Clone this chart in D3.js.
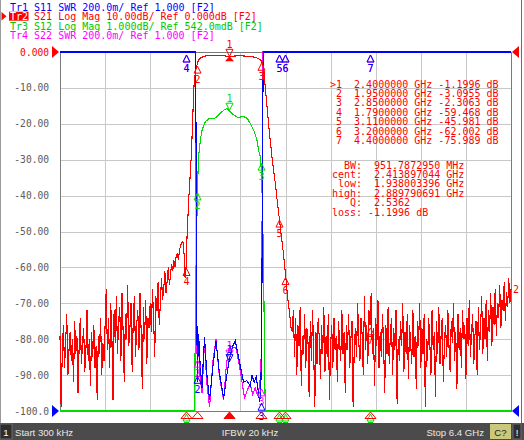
<!DOCTYPE html>
<html><head><meta charset="utf-8">
<script src="https://cdn.jsdelivr.net/npm/d3@7/dist/d3.min.js"></script>
<style>
html,body{margin:0;padding:0;background:#fff;overflow:hidden;}
svg{display:block;}
text{white-space:pre;}
</style></head><body>
<svg id="c" width="524" height="440"></svg>
<script>
// ---------------- DATA ----------------
const freqStart = 0.0003, freqStop = 6.4;           // GHz
const s21Ref = 0, s21PerDiv = 10;                     // dB
const s12Ref = 0.542, s12PerDiv = 1;                  // dB
const swrRef = 1, swrPerDiv = 0.2;
const yTickValues = [0,-10,-20,-30,-40,-50,-60,-70,-80,-90,-100];
const yTickLabels = ["0.000","-10.00","-20.00","-30.00","-40.00","-50.00","-60.00","-70.00","-80.00","-90.00","-100.0"];

const headerLines = [
  {tr:"Tr1", rest:" S11 SWR 200.0m/ Ref 1.000 [F2]", color:"#0000ff", active:false},
  {tr:"Tr2", rest:" S21 Log Mag 10.00dB/ Ref 0.000dB [F2]", color:"#ff0000", active:true},
  {tr:"Tr3", rest:" S12 Log Mag 1.000dB/ Ref 542.0mdB [F2]", color:"#00c800", active:false},
  {tr:"Tr4", rest:" S22 SWR 200.0m/ Ref 1.000 [F2]", color:"#ff00ff", active:false}
];

// S21 sweep: noise segments on a fixed stimulus step, skirts/passband listed point by point
const noiseStep = 0.016;
const s21LeftStart = 0.0003;
const s21LeftNoise = [
 -79,-99,-84,-76,-88,-81,-73,-90,-83,-78,
 -86,-80,-92,-75,-84,-79,-95,-82,-74,-87,
 -81,-77,-89,-83,-72,-86,-80,-93,-78,-85,
 -76,-88,-82,-97,-79,-84,-74,-90,-81,-86,
 -76,-66,-83,-74,-88,-70,-79,-97,-72,-81,
 -68,-84,-75,-71,-86,-67,-78,-92,-73,-80,
 -65,-82,-77,-70,-89,-74,-68,-85,-76,-72,
 -83,-67,-78,-94,-71,-80,-69,-87,-74,-77,
 -70,-78,-66,-74,-85,-68,-72,-64,-76,-70,
 -63,-69,-66,-61,-67,-64,-60,-65,-62,-59,
 -61,-58,-60,-57,-56,-58,-55,-54,-53];
const s21BandFreq = [1.744,1.752,1.760,1.768,1.776,1.784,1.790,1.800,1.810,1.820,1.830,1.840,1.850,1.860,1.870,1.880,1.890,1.900,1.910,1.920,1.930,1.938,1.950,1.970,2.000,2.030,2.070,2.150,2.300,2.400,2.500,2.600,2.700,2.750,2.800,2.830,2.850,2.870,2.890,2.900,2.913,2.937,2.960,2.985,3.013,3.055,3.080,3.110,3.140,3.170,3.200,3.220,3.240,3.260,3.280];
const s21BandDb   = [-52.8,-54,-56,-60,-63,-62,-59.468,-53,-48,-44,-40,-37,-33.5,-30,-25.5,-21,-15,-10,-7.5,-5.8,-4.8,-4.2,-3.0955,-2.2,-1.6,-1.3,-1.1,-1.0,-1.05,-1.1996,-1.1,-1.1,-1.2,-1.4,-1.7,-2.0,-2.3063,-3.0,-4.2,-6.5,-10,-15,-20,-25,-30,-36.5,-41,-45.981,-51,-56,-62.002,-66,-70,-73,-77];
const s21RightStart = 3.296;
const s21RightNoise = [
 -78,-72,-85,-74,-90,-76,-82,-71,-93,-79,
 -84,-73,-88,-77,-81,-96,-75,-86,-72,-83,
 -99,-78,-87,-74,-80,-91,-76,-84,-71,-89,
 -79,-85,-73,-97,-82,-76,-88,-74,-83,-79,
 -92,-75,-81,-86,-72,-84,-78,-95,-76,-83,
 -73,-88,-80,-75,-99,-82,-77,-85,-70,-81,
 -86,-74,-79,-90,-68,-83,-76,-87,-72,-76,
 -67,-84,-77,-93,-74,-82,-69,-88,-78,-85,
 -73,-81,-95,-76,-84,-71,-87,-79,-74,-90,
 -77,-83,-72,-98,-80,-86,-75,-82,-70,-89,
 -78,-84,-73,-91,-76,-81,-87,-72,-85,-79,
 -94,-75,-82,-70,-88,-77,-84,-73,-99,-80,
 -86,-74,-81,-90,-72,-83,-78,-96,-75,-84,
 -71,-87,-79,-74,-92,-80,-76,-85,-72,-82,
 -89,-75,-81,-70,-86,-78,-94,-73,-83,-77,
 -88,-72,-80,-76,-91,-74,-82,-69,-85,-78,
 -73,-87,-79,-75,-90,-71,-83,-77,-68,-84,
 -74,-80,-69,-86,-72,-78,-67,-82,-71,-76,
 -66,-79,-70,-74,-65,-77,-69,-72,-64,-75,
 -67,-71,-63,-70,-66];

// S11 (SWR)
const s11Freq = [0.0003,1.900,1.925,1.938,1.948,1.967,1.990,2.016,2.035,2.052,2.085,2.123,2.170,2.214,2.260,2.322,2.360,2.400,2.450,2.488,2.550,2.605,2.650,2.700,2.724,2.755,2.785,2.810,2.832,2.850,2.865,2.875,2.885,6.4];
const s11Swr  = [6.0,3.6,3.2,1.9,1.16,1.43,1.25,1.13,1.30,1.41,1.20,1.06,1.25,1.39,1.22,1.07,1.18,1.28,1.36,1.39,1.27,1.16,1.17,1.14,1.20,1.16,1.19,1.12,1.05,1.10,1.6,2.5,3.5,6.0];
// S22 (SWR)
const s22Freq = [0.0003,1.900,1.925,1.935,1.945,1.960,1.985,2.016,2.050,2.085,2.123,2.170,2.214,2.260,2.322,2.360,2.390,2.430,2.500,2.560,2.620,2.660,2.700,2.735,2.770,2.800,2.835,2.855,2.870,2.880,6.4];
const s22Swr  = [6.0,3.5,3.0,1.6,1.32,1.42,1.20,1.10,1.38,1.15,1.02,1.28,1.40,1.20,1.06,1.25,1.34,1.36,1.35,1.22,1.07,1.12,1.15,1.09,1.13,1.09,1.14,1.3,2.2,3.5,6.0];
// S12 (dB)
const s12Freq = [0.0003,1.910,1.925,1.940,1.950,1.967,1.992,2.016,2.062,2.123,2.180,2.228,2.299,2.332,2.370,2.417,2.464,2.520,2.605,2.653,2.700,2.757,2.795,2.818,2.842,2.850,2.870,2.890,2.905,2.915,6.4];
const s12Db   = [-60,-10.5,-6,-4.5,-3.3,-2.37,-1.91,-1.63,-1.40,-1.30,-1.32,-1.26,-1.12,-1.07,-1.03,-1.12,-1.21,-1.28,-1.26,-1.30,-1.44,-1.68,-1.91,-2.19,-2.37,-2.47,-3.5,-5.5,-8.5,-10.5,-60];

// Markers
const markerNames = ["1","2","3","4","5","6","7"];
const markerFreqs = [2.4,1.95,2.85,1.79,3.11,3.2,4.4];
const s21MarkerDb = [-1.1996,-3.0955,-2.3063,-59.468,-45.981,-62.002,-75.989];
const s12MarkerDb = [-1.08,-3.3,-2.47,-45,-38,-47,-60];
const s11MarkerSwr = [1.275,1.21,1.06,9.5,6.2,8.7,12.0];
const s22MarkerSwr = [1.30,1.30,1.14,9.0,7.0,8.0,11.0];

const bwLabels = ["BW:","cent:","low:","high:","Q:","loss:"];
const bwValues = [" 951.7872950 MHz"," 2.413897044 GHz"," 1.938003396 GHz"," 2.889790691 GHz"," 2.5362","-1.1996 dB"];

const statusStart = "Start 300 kHz", statusIfbw = "IFBW 20 kHz", statusStop = "Stop 6.4 GHz";

// ---------------- DRAW ----------------
const L = 60, R = 511, T = 52, B = 411;
const svg = d3.select("#c");
const mono = "'DejaVu Sans Mono', monospace";
const RED="#ff0000", BLUE="#0000ff", GREEN="#00dc00", MAG="#ff00ff";

const x = d3.scaleLinear().domain([freqStart, freqStop]).range([L, R]);
const yS21 = d3.scaleLinear().domain([s21Ref - 10*s21PerDiv, s21Ref]).range([B, T]).clamp(true);
const yS12 = d3.scaleLinear().domain([s12Ref - 10*s12PerDiv, s12Ref]).range([B, T]).clamp(true);
const ySwr = d3.scaleLinear().domain([swrRef, swrRef + 10*swrPerDiv]).range([B, T]).clamp(true);

// vertical grid
const xGrid = d3.range(11).map(i => freqStart + i*(freqStop-freqStart)/10);
const gx = svg.append("g").attr("transform", `translate(0,${B})`)
  .call(d3.axisBottom(x).tickValues(xGrid).tickSize(-(B-T)).tickFormat(""));
gx.select(".domain").remove();
gx.selectAll("line").attr("stroke", "#c8c8c8").attr("shape-rendering","crispEdges");

// horizontal grid + labels
const gy = svg.append("g").attr("transform", `translate(${L},0)`)
  .call(d3.axisLeft(yS21).tickValues(yTickValues).tickFormat((d,i)=>yTickLabels[i]).tickSize(-(R-L)).tickPadding(11));
gy.select(".domain").remove();
gy.selectAll("line").attr("stroke", "#c8c8c8").attr("shape-rendering","crispEdges");
gy.selectAll("text").attr("font-family", mono).attr("font-size", "9.6px")
  .attr("fill", (d,i)=> i===0 ? RED : "#5c5c5c");

// plot border
svg.append("rect").attr("x",L).attr("y",T).attr("width",R-L).attr("height",B-T)
  .attr("fill","none").attr("stroke","#7a7a7a").attr("shape-rendering","crispEdges");

// traces
const s21Data = [
  ...s21LeftNoise.map((v,i)=>[s21LeftStart + i*noiseStep, v]),
  ...s21BandFreq.map((f,i)=>[f, s21BandDb[i]]),
  ...s21RightNoise.map((v,i)=>[s21RightStart + i*noiseStep, v])
];
const s11Data = s11Freq.map((f,i)=>[f, s11Swr[i]]);
const s22Data = s22Freq.map((f,i)=>[f, s22Swr[i]]);
const s12Data = s12Freq.map((f,i)=>[f, s12Db[i]]);

function trace(data, ys, color){
  svg.append("path").datum(data)
    .attr("d", d3.line().x(d=>x(d[0])).y(d=>ys(d[1])))
    .attr("fill","none").attr("stroke",color).attr("stroke-width",1.1)
    .attr("shape-rendering","crispEdges");
}
trace(s22Data, ySwr, MAG);
trace(s12Data, yS12, GREEN);
trace(s11Data, ySwr, BLUE);
trace(s21Data, yS21, RED);

// markers
function markers(vals, ys, color, activeTrace){
  const g = svg.append("g");
  markerFreqs.forEach((f,i)=>{
    const mx = Math.round(x(f)) + 0.5, my = ys(vals[i]);
    const belowBottom = my >= B;   // clipped below the grid: label falls under the status bar
    if (i === 0){
      g.append("path").attr("d",`M${mx},${my} L${mx-3.5},${my-7} L${mx+3.5},${my-7} Z`)
        .attr("fill","none").attr("stroke",color);
      g.append("text").attr("x",mx).attr("y",my-8.5).attr("text-anchor","middle")
        .attr("font-family",mono).attr("font-size","10px").attr("fill",color).text(markerNames[i]);
      if (activeTrace){
        g.append("path").attr("d",`M${mx},${my} L${mx-4.5},${my+5} L${mx+4.5},${my+5} Z`).attr("fill",color);
      }
    } else {
      g.append("path").attr("d",`M${mx},${my+3} L${mx-3.5},${my+10} L${mx+3.5},${my+10} Z`)
        .attr("fill","none").attr("stroke",color);
      if (belowBottom){
        g.append("line").attr("x1",mx-2.5).attr("x2",mx+2.5).attr("y1",my+11.5).attr("y2",my+11.5).attr("stroke",color);
      } else {
        g.append("text").attr("x",mx).attr("y",my+19.5).attr("text-anchor","middle")
          .attr("font-family",mono).attr("font-size","10px").attr("fill",color).text(markerNames[i]);
      }
    }
  });
}
markers(s22MarkerSwr, ySwr, MAG, false);
markers(s12MarkerDb, yS12, GREEN, false);
markers(s11MarkerSwr, ySwr, BLUE, false);
markers(s21MarkerDb, yS21, RED, true);

// stimulus indicators for active trace markers (below the grid)
markerFreqs.forEach((f,i)=>{
  const mx = Math.round(x(f)) + 0.5;
  svg.append("path").attr("d",`M${mx},412 L${mx-5.5},418.5 L${mx+5.5},418.5 Z`)
    .attr("fill", i===0 ? RED : "none").attr("stroke",RED);
});

// reference triangles
const tri = (d,c)=>svg.append("path").attr("d",d).attr("fill",c);
tri(`M52,${T-6} L59,${T} L52,${T+6} Z`, RED);
tri(`M52,${B-6} L59,${B} L52,${B+6} Z`, BLUE);
tri(`M519,${T-6} L512,${T} L519,${T+6} Z`, RED);
tri(`M519,${B-6} L512,${B} L519,${B+6} Z`, BLUE);

// trace end label
svg.append("text").attr("x",513).attr("y",yS21(s21RightNoise[s21RightNoise.length-1])+4.5)
  .attr("font-family",mono).attr("font-size","10px").attr("fill",RED).text("2");

// header
headerLines.forEach((h,i)=>{
  const by = 10.5 + i*9.5;
  if (h.active){
    svg.append("path").attr("d",`M1.5,${by-8} L6.5,${by-3.8} L1.5,${by+0.5} Z`).attr("fill",h.color);
    svg.append("rect").attr("x",9).attr("y",by-8.3).attr("width",19.5).attr("height",9).attr("fill",h.color);
  }
  const t = svg.append("text").attr("x",10).attr("y",by).attr("font-family",mono).attr("font-size","10px");
  t.append("tspan").attr("fill", h.active ? "#ffffff" : h.color).text(h.tr);
  t.append("tspan").attr("fill", h.color).text(h.rest);
});

// marker table
markerFreqs.forEach((f,i)=>{
  const lab = (i===0 ? ">" : " ") + markerNames[i];
  const row = `${lab}  ${f.toFixed(7)} GHz ${s21MarkerDb[i].toPrecision(5)} dB`;
  svg.append("text").attr("x",330).attr("y",87.6 + i*9.4)
    .attr("font-family",mono).attr("font-size","10px").attr("fill",RED).text(row);
});
bwLabels.forEach((lab,i)=>{
  const by = 168.6 + i*9.4;
  svg.append("text").attr("x",362).attr("y",by).attr("text-anchor","end")
    .attr("font-family",mono).attr("font-size","10px").attr("fill",RED).text(lab);
  svg.append("text").attr("x",368).attr("y",by)
    .attr("font-family",mono).attr("font-size","10px").attr("fill",RED).text(bwValues[i]);
});

// window borders
svg.append("line").attr("x1",0.5).attr("x2",0.5).attr("y1",0).attr("y2",423).attr("stroke","#9a9a9a");
svg.append("line").attr("x1",521.5).attr("x2",521.5).attr("y1",0).attr("y2",423).attr("stroke","#6e6e6e");

// status bar
const sb = svg.append("g");
sb.append("rect").attr("x",0).attr("y",423).attr("width",524).attr("height",17).attr("fill","#4b4b4b");
sb.append("rect").attr("x",0).attr("y",424).attr("width",12).attr("height",15).attr("fill","#2e2e2e").attr("stroke","#6a6a6a");
sb.append("rect").attr("x",490).attr("y",424).attr("width",21).attr("height",15).attr("fill","#c9c87c");
sb.append("rect").attr("x",513).attr("y",424).attr("width",8).attr("height",15).attr("fill","#2e2e2e").attr("stroke","#6a6a6a");
const sfont = "'Liberation Sans', Arial, sans-serif";
const st = (tx,xx,anchor,col)=>sb.append("text").attr("x",xx).attr("y",435.5).attr("text-anchor",anchor)
  .attr("font-family",sfont).attr("font-size","9.6px").attr("fill",col).text(tx);
st("1",6,"middle","#ffffff");
st(statusStart,15,"start","#e8e8e8");
st(statusIfbw,250,"middle","#e8e8e8");
st(statusStop,484,"end","#e8e8e8");
st("C?",500.5,"middle","#222222");
st("!",517,"middle","#ffffff");
</script></body></html>
